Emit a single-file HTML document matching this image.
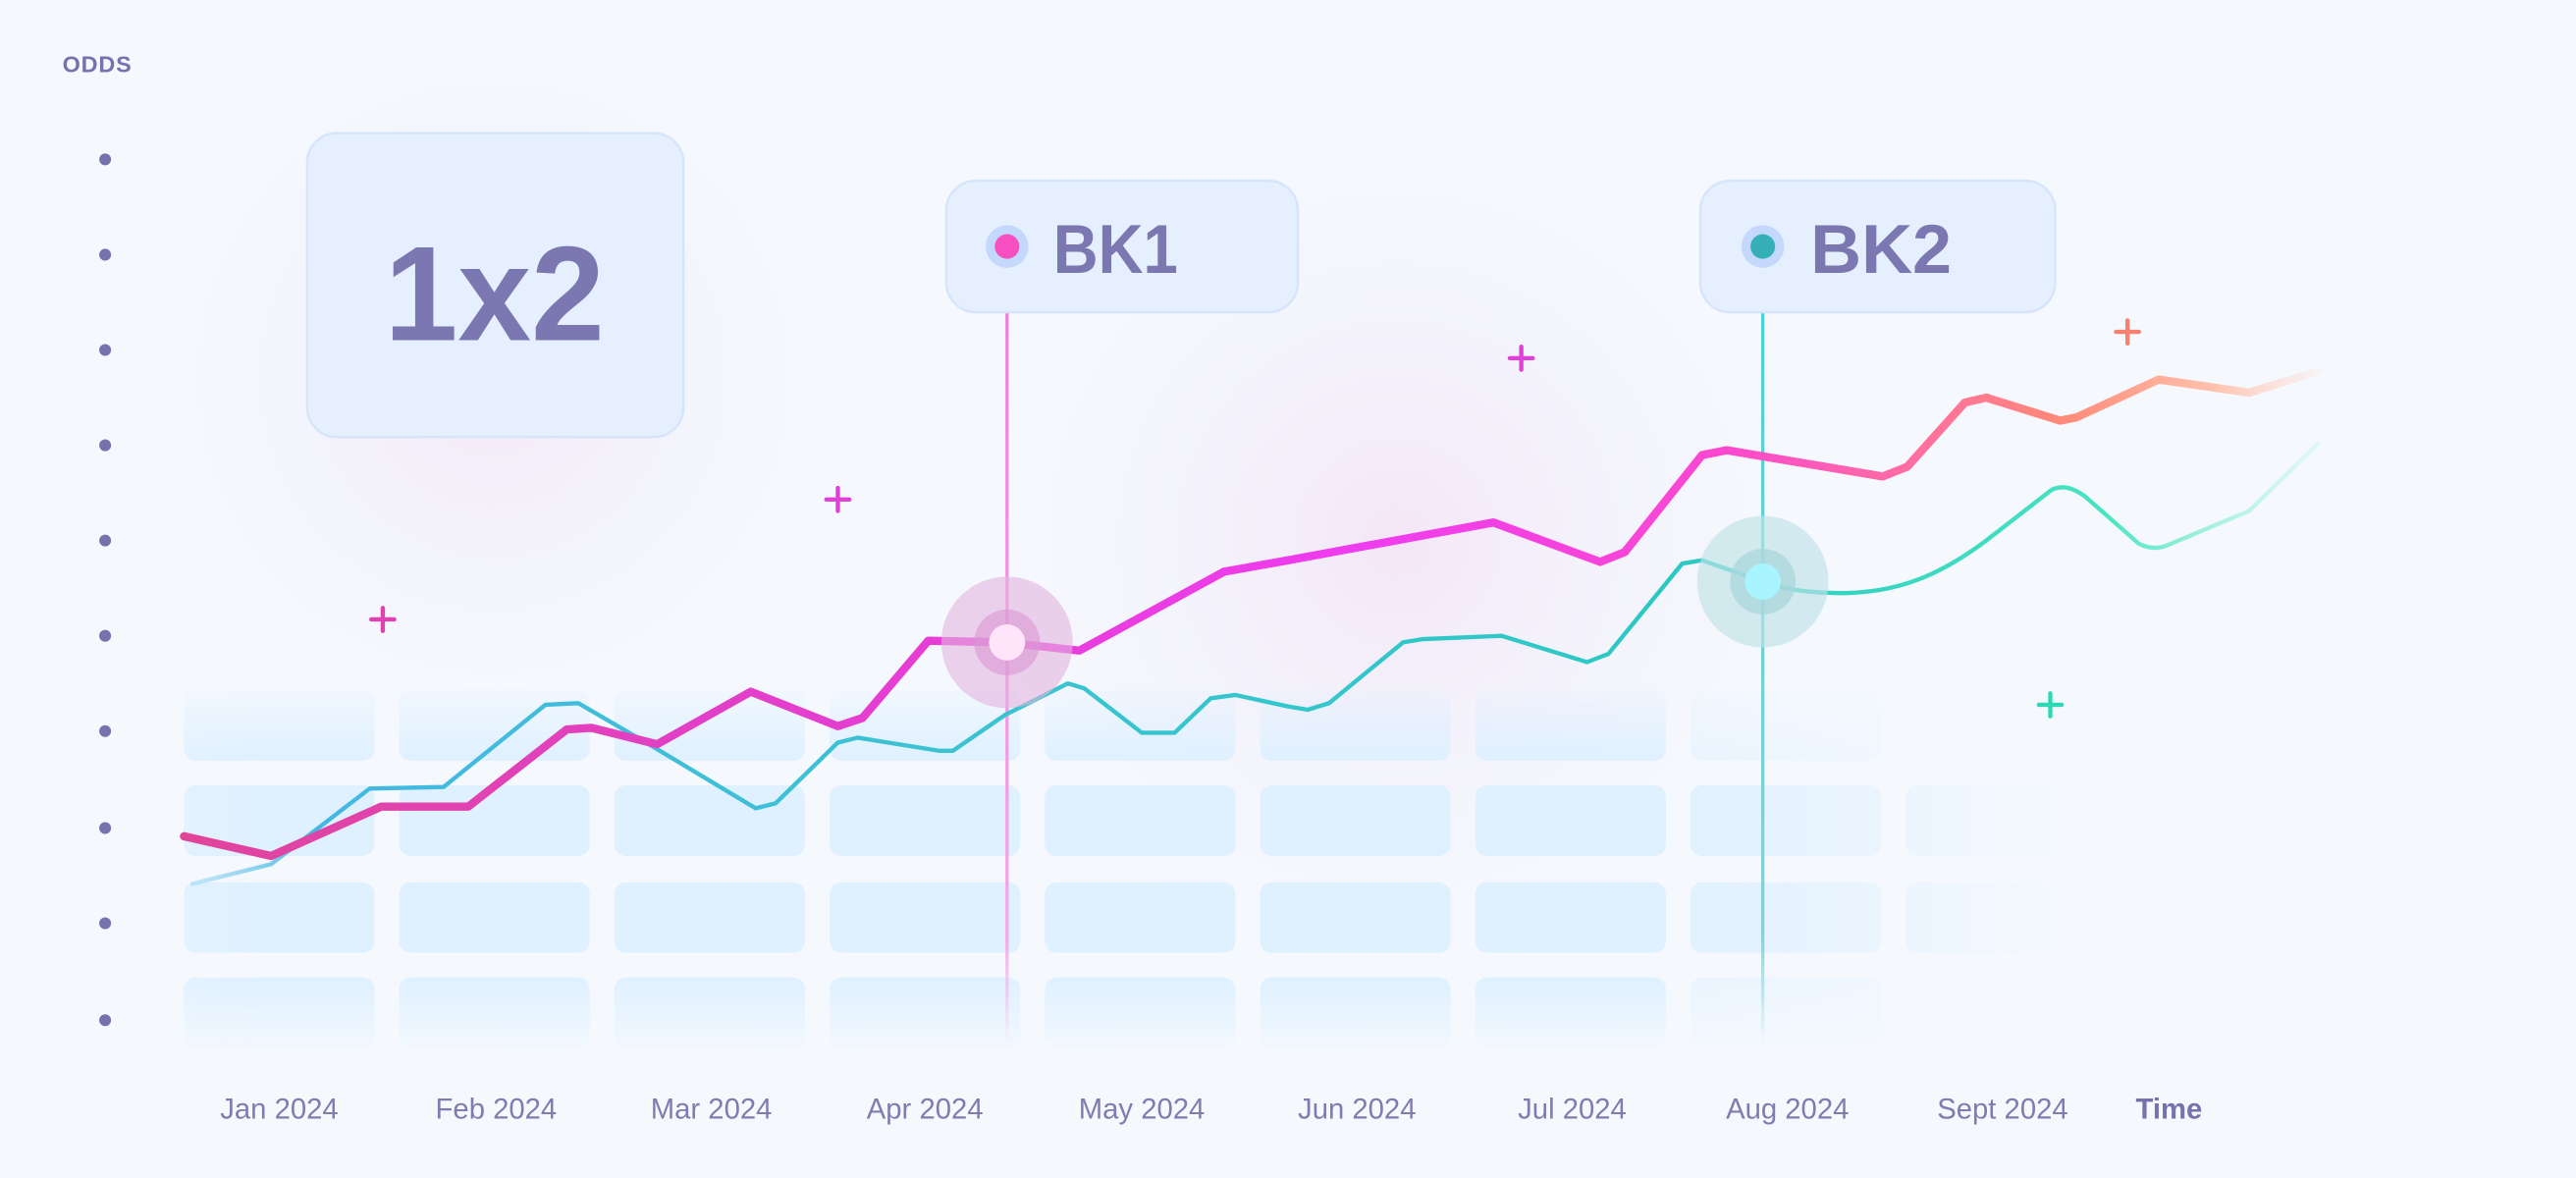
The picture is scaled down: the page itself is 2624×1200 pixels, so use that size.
<!DOCTYPE html>
<html><head><meta charset="utf-8"><style>
html,body{margin:0;padding:0;background:#f5f9fe;}
svg{display:block;}
text{font-family:"Liberation Sans",sans-serif;}
</style></head><body>
<svg width="2624" height="1200" viewBox="0 0 1568 717" xmlns="http://www.w3.org/2000/svg">
<defs>
<radialGradient id="g1" cx="300" cy="230" r="260" gradientUnits="userSpaceOnUse">
<stop offset="0" stop-color="#f3e6f6" stop-opacity="0.9"/><stop offset="1" stop-color="#f5f9fe" stop-opacity="0"/></radialGradient>
<radialGradient id="g2" cx="850" cy="330" r="300" gradientUnits="userSpaceOnUse">
<stop offset="0" stop-color="#f3e4f6" stop-opacity="0.9"/><stop offset="1" stop-color="#f5f9fe" stop-opacity="0"/></radialGradient>
<linearGradient id="r1" x1="0" y1="420" x2="0" y2="463" gradientUnits="userSpaceOnUse"><stop offset="0" stop-color="#dcefff" stop-opacity="0.15"/><stop offset="1" stop-color="#dcefff" stop-opacity="0.9"/></linearGradient>
<linearGradient id="r2" x1="0" y1="0" x2="0" y2="1"><stop offset="0" stop-color="#ddf0ff"/><stop offset="1" stop-color="#e2f1fd"/></linearGradient>
<linearGradient id="r4" x1="0" y1="595" x2="0" y2="638" gradientUnits="userSpaceOnUse"><stop offset="0" stop-color="#dcefff" stop-opacity="0.9"/><stop offset="1" stop-color="#dcefff" stop-opacity="0.1"/></linearGradient>
<linearGradient id="fadeR" x1="0" y1="0" x2="1568" y2="0" gradientUnits="userSpaceOnUse">
<stop offset="0" stop-color="#fff" stop-opacity="0.6"/><stop offset="0.1" stop-color="#fff"/><stop offset="0.65" stop-color="#fff"/><stop offset="0.8" stop-color="#fff" stop-opacity="0"/></linearGradient>
<mask id="m"><rect x="0" y="0" width="1568" height="717" fill="url(#fadeR)"/></mask>
<linearGradient id="pk" x1="112" y1="0" x2="1411" y2="0" gradientUnits="userSpaceOnUse">
<stop offset="0" stop-color="#e0459a"/><stop offset="0.25" stop-color="#e23fc8"/><stop offset="0.55" stop-color="#ef3cf0"/><stop offset="0.72" stop-color="#fa48d0"/><stop offset="0.8" stop-color="#ff6aa6"/><stop offset="0.88" stop-color="#ff8a78"/><stop offset="0.95" stop-color="#ffc0ac"/><stop offset="1" stop-color="#ffd8cc" stop-opacity="0.2"/></linearGradient>
<linearGradient id="tl" x1="112" y1="0" x2="1411" y2="0" gradientUnits="userSpaceOnUse">
<stop offset="0" stop-color="#9fd8f5" stop-opacity="0.5"/><stop offset="0.06" stop-color="#45b8e2"/><stop offset="0.4" stop-color="#3ac4d0"/><stop offset="0.7" stop-color="#2cc8c4"/><stop offset="0.9" stop-color="#48e4c0"/><stop offset="1" stop-color="#b0f4e0" stop-opacity="0.3"/></linearGradient>
<linearGradient id="v1" x1="0" y1="190" x2="0" y2="635" gradientUnits="userSpaceOnUse"><stop offset="0" stop-color="#f07fe0"/><stop offset="0.85" stop-color="#f4a8e6"/><stop offset="1" stop-color="#f4a8e6" stop-opacity="0"/></linearGradient>
<linearGradient id="v2" x1="0" y1="190" x2="0" y2="635" gradientUnits="userSpaceOnUse"><stop offset="0" stop-color="#4fd0d4"/><stop offset="0.85" stop-color="#8ccfd8"/><stop offset="1" stop-color="#8ccfd8" stop-opacity="0"/></linearGradient>
</defs>
<rect width="1568" height="717" fill="#f5f9fe"/>
<rect width="1568" height="717" fill="url(#g1)"/>
<rect width="1568" height="717" fill="url(#g2)"/>

<text x="38" y="44" font-size="14" font-weight="bold" fill="#7572ae" letter-spacing="0.5">ODDS</text>
<g fill="#7572ae">
<circle cx="64" cy="97" r="3.6"/><circle cx="64" cy="155" r="3.6"/><circle cx="64" cy="213" r="3.6"/><circle cx="64" cy="271" r="3.6"/><circle cx="64" cy="329" r="3.6"/><circle cx="64" cy="387" r="3.6"/><circle cx="64" cy="445" r="3.6"/><circle cx="64" cy="504" r="3.6"/><circle cx="64" cy="562" r="3.6"/><circle cx="64" cy="621" r="3.6"/>
</g>

<g mask="url(#m)">
<g fill="url(#r1)">
<rect x="112" y="420" width="116" height="43" rx="7"/><rect x="243" y="420" width="116" height="43" rx="7"/><rect x="374" y="420" width="116" height="43" rx="7"/><rect x="505" y="420" width="116" height="43" rx="7"/><rect x="636" y="420" width="116" height="43" rx="7"/><rect x="767" y="420" width="116" height="43" rx="7"/><rect x="898" y="420" width="116" height="43" rx="7"/><rect x="1029" y="420" width="116" height="43" rx="7" opacity="0.5"/>
</g>
<g fill="#dff0fe">
<rect x="112" y="478" width="116" height="43" rx="7"/><rect x="243" y="478" width="116" height="43" rx="7"/><rect x="374" y="478" width="116" height="43" rx="7"/><rect x="505" y="478" width="116" height="43" rx="7"/><rect x="636" y="478" width="116" height="43" rx="7"/><rect x="767" y="478" width="116" height="43" rx="7"/><rect x="898" y="478" width="116" height="43" rx="7"/><rect x="1029" y="478" width="116" height="43" rx="7"/><rect x="1160" y="478" width="116" height="43" rx="7"/>
<rect x="112" y="537" width="116" height="43" rx="7"/><rect x="243" y="537" width="116" height="43" rx="7"/><rect x="374" y="537" width="116" height="43" rx="7"/><rect x="505" y="537" width="116" height="43" rx="7"/><rect x="636" y="537" width="116" height="43" rx="7"/><rect x="767" y="537" width="116" height="43" rx="7"/><rect x="898" y="537" width="116" height="43" rx="7"/><rect x="1029" y="537" width="116" height="43" rx="7"/><rect x="1160" y="537" width="116" height="43" rx="7"/>
</g>
<g fill="url(#r4)">
<rect x="112" y="595" width="116" height="43" rx="7"/><rect x="243" y="595" width="116" height="43" rx="7"/><rect x="374" y="595" width="116" height="43" rx="7"/><rect x="505" y="595" width="116" height="43" rx="7"/><rect x="636" y="595" width="116" height="43" rx="7"/><rect x="767" y="595" width="116" height="43" rx="7"/><rect x="898" y="595" width="116" height="43" rx="7"/><rect x="1029" y="595" width="116" height="43" rx="7" opacity="0.5"/>
</g>
</g>

<!-- 1x2 box -->
<rect x="187" y="81" width="229" height="185" rx="18" fill="#e5effd" stroke="#d7e5fb" stroke-width="1.5"/>
<text x="301" y="207" font-size="82" font-weight="bold" fill="#7b77b0" text-anchor="middle" textLength="134" lengthAdjust="spacingAndGlyphs">1x2</text>

<!-- vertical lines -->
<line x1="613" y1="190" x2="613" y2="635" stroke="url(#v1)" stroke-width="2"/>
<line x1="1073" y1="190" x2="1073" y2="635" stroke="url(#v2)" stroke-width="2"/>

<!-- BK boxes -->
<rect x="576" y="110" width="214" height="80" rx="18" fill="#e5effd" stroke="#d7e5fb" stroke-width="1.5"/>
<circle cx="613" cy="150" r="13" fill="#c4d8fc"/><circle cx="613" cy="150" r="7.5" fill="#f74fc0"/>
<text x="641" y="166" font-size="42" font-weight="bold" fill="#7b77b0" textLength="76" lengthAdjust="spacingAndGlyphs">BK1</text>
<rect x="1035" y="110" width="216" height="80" rx="18" fill="#e5effd" stroke="#d7e5fb" stroke-width="1.5"/>
<circle cx="1073" cy="150" r="13" fill="#c4d8fc"/><circle cx="1073" cy="150" r="7.5" fill="#36b0b6"/>
<text x="1102" y="166" font-size="42" font-weight="bold" fill="#7b77b0" textLength="86" lengthAdjust="spacingAndGlyphs">BK2</text>

<!-- teal line -->
<polyline fill="none" stroke="url(#tl)" stroke-width="2.6" stroke-linejoin="round" stroke-linecap="round"
points="117,538 165,526 225,480 270,479 332,429 352,428 395,453 460,492 472,489 510,452 522,449 572,457 580,457 612,435 650,416 660,419 695,446 715,446 737,425 752,423 784,430 796,432 809,428 854,391 866,389 914,387 966,403 979,398 1024,343 1036,341 1073,354"/>
<path d="M1073,354 C1090,360 1105,361 1124,361 C1160,360 1185,347 1209,329 L1249,298 C1256,295 1262,297 1269,302 L1302,331 C1308,334 1314,334 1319,332 L1369,311 L1411,270" fill="none" stroke="url(#tl)" stroke-width="2.6" stroke-linejoin="round" stroke-linecap="round"/>

<!-- pink line -->
<polyline fill="none" stroke="url(#pk)" stroke-width="5" stroke-linejoin="round" stroke-linecap="round"
points="112,509 165,521 232,491 285,491 345,444 360,443 400,453 457,421 510,442 525,437 565,390 612,391 657,396 745,348 784,341 909,318 974,342 989,336 1036,277 1051,274 1146,290 1161,284 1196,245 1209,242 1254,256 1264,254 1314,231 1369,239 1411,226"/>

<!-- halos -->
<circle cx="613" cy="391" r="40" fill="#e2b4de" opacity="0.6"/>
<circle cx="613" cy="391" r="20" fill="#d896d4" opacity="0.6"/>
<circle cx="613" cy="391" r="11" fill="#ffe4fa"/>
<circle cx="1073" cy="354" r="40" fill="#bfe2e6" opacity="0.65"/>
<circle cx="1073" cy="354" r="20" fill="#a6d6da" opacity="0.7"/>
<circle cx="1073" cy="354" r="11" fill="#a8f4ff"/>

<!-- plus signs -->
<g stroke-width="2.6" stroke-linecap="round">
<path d="M226,377h14M233,370v14" stroke="#e040b0"/>
<path d="M503,304h14M510,297v14" stroke="#e040d8"/>
<path d="M919,218h14M926,211v14" stroke="#e040d8"/>
<path d="M1288,202h14M1295,195v14" stroke="#f88070"/>
<path d="M1241,429h14M1248,422v14" stroke="#2ed8b4"/>
</g>

<!-- x labels -->
<g font-size="17.5" fill="#7f7cb0" text-anchor="middle">
<text x="170" y="681">Jan 2024</text><text x="302" y="681">Feb 2024</text><text x="433" y="681">Mar 2024</text><text x="563" y="681">Apr 2024</text><text x="695" y="681">May 2024</text><text x="826" y="681">Jun 2024</text><text x="957" y="681">Jul 2024</text><text x="1088" y="681">Aug 2024</text><text x="1219" y="681">Sept 2024</text>
</g>
<text x="1300" y="681" font-size="17.5" font-weight="bold" fill="#7572ae">Time</text>
</svg>
</body></html>
